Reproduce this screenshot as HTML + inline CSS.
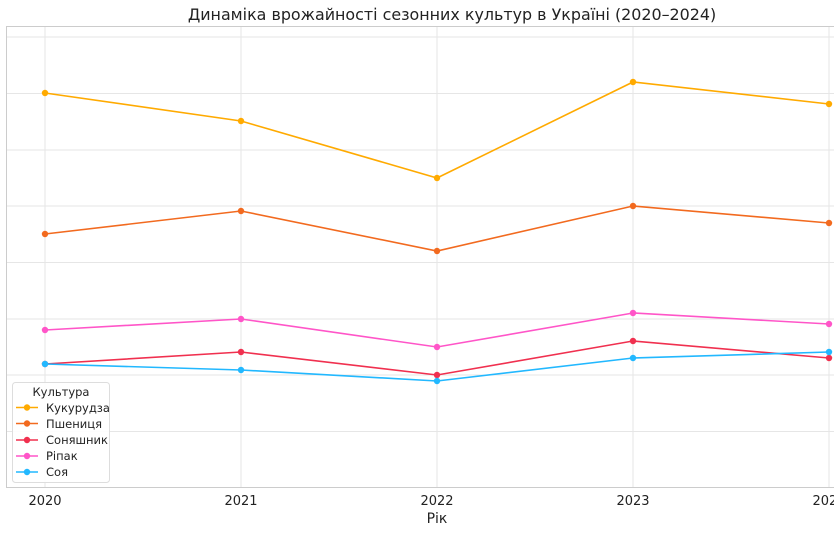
<!DOCTYPE html>
<html><head><meta charset="utf-8"><style>body{margin:0;background:#fff}svg{display:block}text{font-family:"DejaVu Sans","Liberation Sans",sans-serif;fill:#222}</style></head><body>
<svg width="834" height="533" viewBox="0 0 834 533">
<text x="452" y="20" font-size="15.9" text-anchor="middle">Динаміка врожайності сезонних культур в Україні (2020–2024)</text>
<g stroke="#e6e6e6" stroke-width="1">
<line x1="6" x2="834" y1="37" y2="37"/><line x1="6" x2="834" y1="93.5" y2="93.5"/><line x1="6" x2="834" y1="150" y2="150"/><line x1="6" x2="834" y1="206" y2="206"/><line x1="6" x2="834" y1="262.5" y2="262.5"/><line x1="6" x2="834" y1="319" y2="319"/><line x1="6" x2="834" y1="375" y2="375"/><line x1="6" x2="834" y1="431.5" y2="431.5"/>
<line x1="45" x2="45" y1="26" y2="488"/><line x1="241" x2="241" y1="26" y2="488"/><line x1="437" x2="437" y1="26" y2="488"/><line x1="633" x2="633" y1="26" y2="488"/><line x1="829" x2="829" y1="26" y2="488"/>
</g>
<rect x="6.5" y="26.5" width="840" height="461" fill="none" stroke="#ccc"/>
<g fill="none" stroke-width="1.6">
<polyline stroke="#ffaa00" points="45,93 241,121 437,178 633,82 829,104"/>
<polyline stroke="#f26a1f" points="45,234 241,211 437,251 633,206 829,223"/>
<polyline stroke="#ff55c8" points="45,330 241,319 437,347 633,313 829,324"/>
<polyline stroke="#f0304f" points="45,364 241,352 437,375 633,341 829,358"/>
<polyline stroke="#22b8ff" points="45,364 241,370 437,381 633,358 829,352"/>
</g>
<g fill="#ffaa00"><circle cx="45" cy="93" r="3.2"/><circle cx="241" cy="121" r="3.2"/><circle cx="437" cy="178" r="3.2"/><circle cx="633" cy="82" r="3.2"/><circle cx="829" cy="104" r="3.2"/></g>
<g fill="#f26a1f"><circle cx="45" cy="234" r="3.2"/><circle cx="241" cy="211" r="3.2"/><circle cx="437" cy="251" r="3.2"/><circle cx="633" cy="206" r="3.2"/><circle cx="829" cy="223" r="3.2"/></g>
<g fill="#ff55c8"><circle cx="45" cy="330" r="3.2"/><circle cx="241" cy="319" r="3.2"/><circle cx="437" cy="347" r="3.2"/><circle cx="633" cy="313" r="3.2"/><circle cx="829" cy="324" r="3.2"/></g>
<g fill="#f0304f"><circle cx="45" cy="364" r="3.2"/><circle cx="241" cy="352" r="3.2"/><circle cx="437" cy="375" r="3.2"/><circle cx="633" cy="341" r="3.2"/><circle cx="829" cy="358" r="3.2"/></g>
<g fill="#22b8ff"><circle cx="45" cy="364" r="3.2"/><circle cx="241" cy="370" r="3.2"/><circle cx="437" cy="381" r="3.2"/><circle cx="633" cy="358" r="3.2"/><circle cx="829" cy="352" r="3.2"/></g>
<g font-size="13" text-anchor="middle">
<text x="45" y="505">2020</text><text x="241" y="505">2021</text><text x="437" y="505">2022</text><text x="633" y="505">2023</text><text x="829" y="505">2024</text>
<text x="437" y="523" font-size="14">Рік</text>
</g>
<rect x="12.5" y="382.5" width="97" height="100" rx="3" fill="#fff" fill-opacity="0.9" stroke="#ddd"/>
<text x="61" y="396" font-size="11.5" text-anchor="middle">Культура</text>
<g font-size="11.5">
<line x1="16" x2="38" y1="407.5" y2="407.5" stroke="#ffaa00" stroke-width="1.6"/><circle cx="27" cy="407.5" r="3.2" fill="#ffaa00"/><text x="46" y="412">Кукурудза</text>
<line x1="16" x2="38" y1="423.5" y2="423.5" stroke="#f26a1f" stroke-width="1.6"/><circle cx="27" cy="423.5" r="3.2" fill="#f26a1f"/><text x="46" y="428">Пшениця</text>
<line x1="16" x2="38" y1="440" y2="440" stroke="#f0304f" stroke-width="1.6"/><circle cx="27" cy="440" r="3.2" fill="#f0304f"/><text x="46" y="444">Соняшник</text>
<line x1="16" x2="38" y1="456" y2="456" stroke="#ff55c8" stroke-width="1.6"/><circle cx="27" cy="456" r="3.2" fill="#ff55c8"/><text x="46" y="460">Ріпак</text>
<line x1="16" x2="38" y1="472" y2="472" stroke="#22b8ff" stroke-width="1.6"/><circle cx="27" cy="472" r="3.2" fill="#22b8ff"/><text x="46" y="476">Соя</text>
</g>
</svg>
</body></html>
